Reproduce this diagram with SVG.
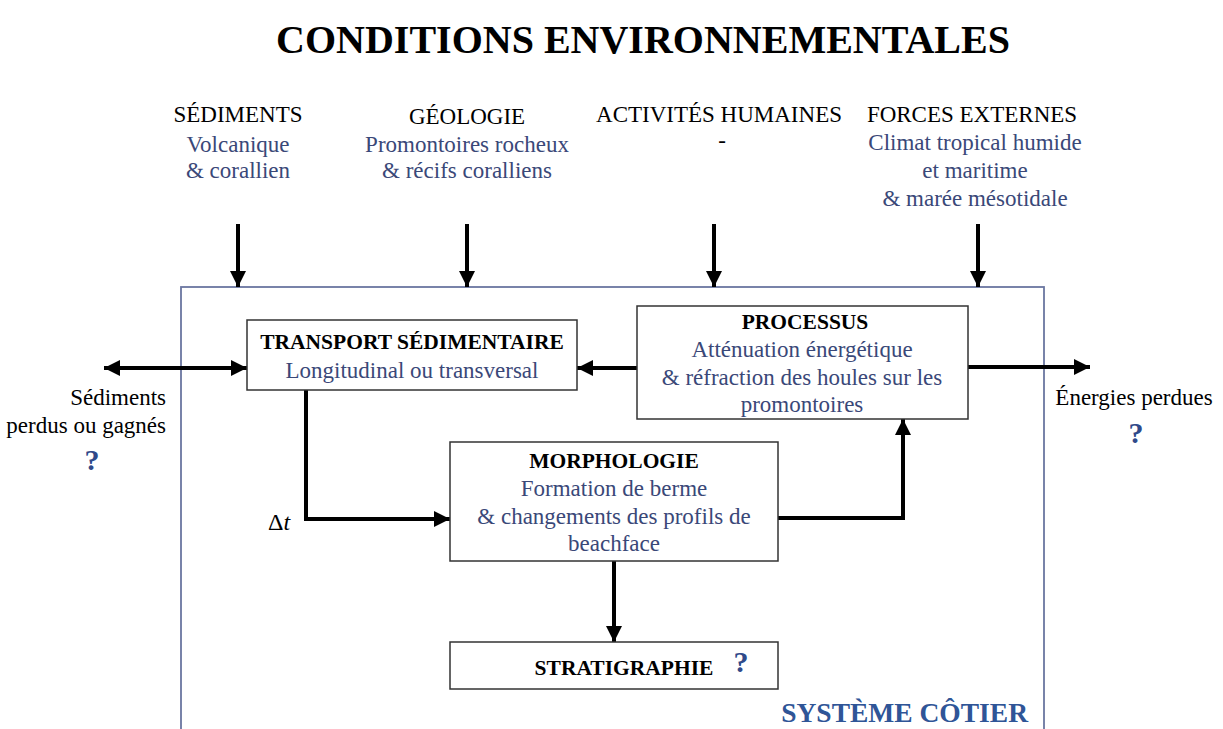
<svg xmlns="http://www.w3.org/2000/svg" width="1223" height="729" viewBox="0 0 1223 729">
<defs>
<style>
text{font-family:"Liberation Serif","Times New Roman",serif;}
.t{font-size:23px;fill:#000;text-anchor:middle;}
.b{font-size:23px;fill:#3a4878;text-anchor:middle;}
.h{font-size:21.5px;font-weight:bold;fill:#000;text-anchor:middle;}
.q{font-size:30px;font-weight:bold;fill:#2f4a8a;text-anchor:middle;}
.box{fill:#fff;stroke:#333;stroke-width:1.5;}
.ln{fill:none;stroke:#000;stroke-width:4;}
</style>
<marker id="ah" viewBox="0 0 10 10" refX="10" refY="5" markerWidth="4" markerHeight="4" orient="auto-start-reverse" markerUnits="strokeWidth">
<path d="M0,0 L10,5 L0,10 z" fill="#000"/>
</marker>
</defs>
<rect width="1223" height="729" fill="#fff"/>
<text x="643" y="53" style="font-size:40px;font-weight:bold;text-anchor:middle">CONDITIONS ENVIRONNEMENTALES</text>

<g id="sediments"><text class="t" x="238" y="122">SÉDIMENTS</text><text class="b" x="238" y="152">Volcanique</text><text class="b" x="238" y="178">&amp; corallien</text></g>
<g id="geologie"><text class="t" x="467" y="124">GÉOLOGIE</text><text class="b" x="467" y="152">Promontoires rocheux</text><text class="b" x="467" y="178">&amp; récifs coralliens</text></g>
<g id="activites"><text class="t" x="719" y="122">ACTIVITÉS HUMAINES</text><text class="t" x="722" y="148">-</text></g>
<g id="forces"><text class="t" x="972" y="122">FORCES EXTERNES</text><text class="b" x="975" y="150">Climat tropical humide</text><text class="b" x="975" y="178">et maritime</text><text class="b" x="975" y="206">&amp; marée mésotidale</text></g>

<g id="systeme"><rect x="181" y="287" width="863" height="460" fill="none" stroke="#6a76a0" stroke-width="1.8"/>
<text x="1028" y="722" style="font-size:27.5px;font-weight:bold;fill:#2f5597;text-anchor:end">SYSTÈME CÔTIER</text></g>

<g id="connectors">
<line class="ln" x1="238" y1="224" x2="238" y2="287" marker-end="url(#ah)"/>
<line class="ln" x1="467" y1="224" x2="467" y2="287" marker-end="url(#ah)"/>
<line class="ln" x1="714" y1="224" x2="714" y2="287" marker-end="url(#ah)"/>
<line class="ln" x1="978" y1="224" x2="978" y2="287" marker-end="url(#ah)"/>
<line class="ln" x1="104" y1="368" x2="247" y2="368" marker-start="url(#ah)" marker-end="url(#ah)"/>
<line class="ln" x1="637" y1="368" x2="577" y2="368" marker-end="url(#ah)"/>
<line class="ln" x1="968" y1="367" x2="1090" y2="367" marker-end="url(#ah)"/>
<polyline class="ln" points="306,390 306,519 450,519" marker-end="url(#ah)"/>
<polyline class="ln" points="778,518 903,518 903,419" marker-end="url(#ah)"/>
<line class="ln" x1="614" y1="561" x2="614" y2="642" marker-end="url(#ah)"/>
</g>

<g id="transport"><rect class="box" x="247" y="320" width="330" height="70"/>
<text class="h" x="412" y="349">TRANSPORT SÉDIMENTAIRE</text><text class="b" x="412" y="378">Longitudinal ou transversal</text></g>
<g id="processus"><rect class="box" x="637" y="306" width="331" height="113"/>
<text class="h" x="805" y="329">PROCESSUS</text><text class="b" x="802" y="357">Atténuation énergétique</text><text class="b" x="802" y="385">&amp; réfraction des houles sur les</text><text class="b" x="802" y="412">promontoires</text></g>
<g id="morphologie"><rect class="box" x="450" y="442" width="328" height="119"/>
<text class="h" x="614" y="468">MORPHOLOGIE</text><text class="b" x="614" y="496">Formation de berme</text><text class="b" x="614" y="524">&amp; changements des profils de</text><text class="b" x="614" y="551">beachface</text></g>
<g id="stratigraphie"><rect class="box" x="450" y="642" width="328" height="47"/>
<text class="h" x="624" y="675">STRATIGRAPHIE</text><text class="q" x="741" y="672">?</text></g>

<g id="sed-perdus"><text class="t" x="166" y="405" style="text-anchor:end">Sédiments</text><text class="t" x="166" y="433" style="text-anchor:end">perdus ou gagnés</text><text class="q" x="92" y="470">?</text></g>
<g id="energies"><text class="t" x="1134" y="405">Énergies perdues</text><text class="q" x="1136" y="443">?</text></g>
<text x="268" y="530" style="font-size:24px">Δ<tspan font-style="italic">t</tspan></text>
</svg>
